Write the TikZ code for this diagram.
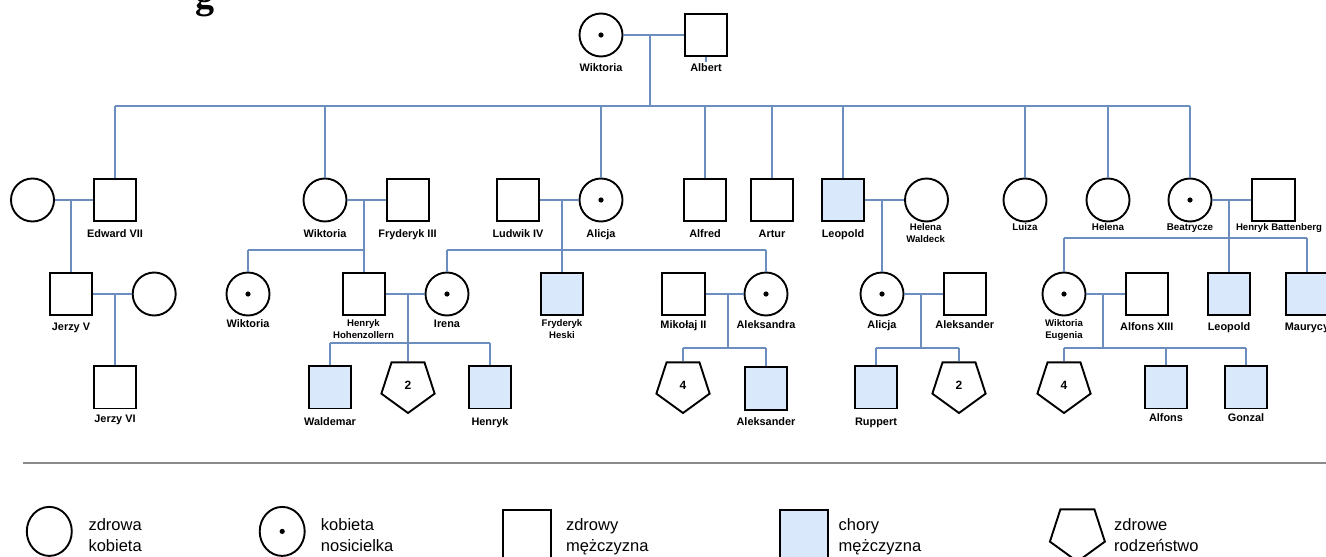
\documentclass[tikz,border=0pt]{standalone}
\usepackage{fontspec}
\setmainfont{Liberation Sans}
\newfontfamily\titlefont{Liberation Serif}
\usetikzlibrary{shapes.geometric}
\definecolor{lnblue}{HTML}{6C8EBF}
\definecolor{sickfill}{HTML}{DAE8FC}
\definecolor{sepgray}{HTML}{8A8A8A}
\begin{document}
\begin{tikzpicture}[x=1pt,y=-1pt,
  shp/.style={draw=black,line width=1.9pt,inner sep=0pt},
  fem/.style={shp,circle,minimum size=43pt},
  dotted centre/.style={path picture={\fill[black] (path picture bounding box.center) circle (2.6pt);}},
  carrier/.style={fem,dotted centre},
  male/.style={shp,rectangle,minimum size=42.5pt},
  sick/.style={male,fill=sickfill},
  sibs/.style={shp,regular polygon,regular polygon sides=5,shape border rotate=180,minimum size=56pt,font=\fontsize{12}{14}\selectfont\bfseries},
  lab/.style={anchor=base,inner sep=0pt,font=\fontsize{10.9}{13}\selectfont\bfseries},
  labr/.style={anchor=base,inner sep=0pt,font=\fontsize{9.8}{12}\selectfont\bfseries},
  lab2/.style={anchor=base,inner sep=0pt,font=\fontsize{9.6}{12}\selectfont\bfseries},
  rel/.style={draw=lnblue,line width=1.7pt},
  legf/.style={shp,ellipse,minimum width=45pt,minimum height=49pt},
  legm/.style={shp,rectangle,minimum size=48pt},
  legp/.style={shp,regular polygon,regular polygon sides=5,shape border rotate=180,minimum size=57.8pt},
  legt/.style={anchor=base west,inner sep=0pt,font=\fontsize{16.5}{20}\selectfont}
]
\useasboundingbox (0,0) rectangle (1326,557);
\clip (0,0) rectangle (1326,557);

% title fragment
\node[anchor=base,inner sep=0pt,font=\titlefont\bfseries\fontsize{38}{42}\selectfont] (ttl) at (205,8) {g};

% generation 1
\node[carrier] (wik1) at (601,35) {};
\node[male] (alb) at (706,35) {};
\node[lab] (lwik1) at (601,71.7) {Wiktoria};
\node[lab] (lalb) at (706,71.7) {Albert};

% generation 2
\node[fem] (ewife) at (32.5,200) {};
\node[male] (edw) at (115,200) {};
\node[fem] (wik2) at (325,200) {};
\node[male] (fry) at (408,200) {};
\node[male] (lud) at (518,200) {};
\node[carrier] (ali2) at (601,200) {};
\node[male] (alf) at (705,200) {};
\node[male] (art) at (772,200) {};
\node[sick] (leo2) at (843,200) {};
\node[fem] (hwal) at (926.5,200) {};
\node[fem] (lui) at (1025,200) {};
\node[fem] (hel) at (1108,200) {};
\node[carrier] (bea) at (1190,200) {};
\node[male] (hba) at (1273.3,200) {};

\node[lab] (ledw) at (115,237.3) {Edward VII};
\node[lab] (lwik2) at (325,237.3) {Wiktoria};
\node[lab] (lfry) at (407.5,237.3) {Fryderyk III};
\node[lab] (llud) at (518,237.3) {Ludwik IV};
\node[lab] (lali2) at (601,237.3) {Alicja};
\node[lab] (lalf) at (705,237.3) {Alfred};
\node[lab] (lart) at (772,237.3) {Artur};
\node[lab] (lleo2) at (843,237.3) {Leopold};
\node[lab2] (lhwa) at (925.7,230.7) {Helena};
\node[lab2] (lhwb) at (925.7,242.3) {Waldeck};
\node[labr] (llui) at (1025,230.7) {Luiza};
\node[labr] (lhel) at (1108,230.7) {Helena};
\node[labr] (lbea) at (1190,230.7) {Beatrycze};
\node[lab2] (lhba) at (1279,230.9) {Henryk Battenberg};

% generation 3
\node[male] (jv) at (71,294) {};
\node[fem] (jvw) at (154.2,294) {};
\node[carrier] (wik3) at (248,294) {};
\node[male] (hhoh) at (364,294) {};
\node[carrier] (ire) at (447,294) {};
\node[sick] (fhes) at (562,294) {};
\node[male] (mik) at (683.5,294) {};
\node[carrier] (aleks) at (766,294) {};
\node[carrier] (ali3) at (882,294) {};
\node[male] (alek3) at (964.8,294) {};
\node[carrier] (weug) at (1064,294) {};
\node[male] (alf13) at (1146.8,294) {};
\node[sick] (leo3) at (1229,294) {};
\node[sick] (mau) at (1307,294) {};

\node[lab] (ljv) at (71,330.7) {Jerzy V};
\node[lab] (lwik3) at (248,327.7) {Wiktoria};
\node[lab2] (lhha) at (363.5,326.7) {Henryk};
\node[lab2] (lhhb) at (363.5,338.3) {Hohenzollern};
\node[lab] (lire) at (447,327.3) {Irena};
\node[lab2] (lfha) at (562,326.7) {Fryderyk};
\node[lab2] (lfhb) at (562,338.3) {Heski};
\node[lab] (lmik) at (683.5,328.3) {Mikołaj II};
\node[lab] (laleks) at (766,328.3) {Aleksandra};
\node[lab] (lali3) at (882,328.3) {Alicja};
\node[lab] (lalek3) at (964.8,328.3) {Aleksander};
\node[lab2] (lwea) at (1064,326.7) {Wiktoria};
\node[lab2] (lweb) at (1064,338.3) {Eugenia};
\node[lab] (lalf13) at (1146.8,330.7) {Alfons XIII};
\node[lab] (lleo3) at (1229,330.7) {Leopold};
\node[lab] (lmau) at (1307,330.7) {Maurycy};

% generation 4
\node[male] (jvi) at (115,387.2) {};
\node[sick] (wal) at (330,387.2) {};
\node[sibs] (p2a) at (408,385) {2};
\node[sick] (hen4) at (490,387.2) {};
\node[sibs] (p4a) at (683,385) {4};
\node[sick] (alek4) at (766,388.5) {};
\node[sick] (rup) at (876,387.2) {};
\node[sibs] (p2b) at (959,385) {2};
\node[sibs] (p4b) at (1064,385) {4};
\node[sick] (alfo) at (1166,387.2) {};
\node[sick] (gon) at (1246,387.2) {};

\node[lab] (ljvi) at (115,422.3) {Jerzy VI};
\node[lab] (lwal) at (330,425) {Waldemar};
\node[lab] (lhen4) at (490,425) {Henryk};
\node[lab] (lalek4) at (766,425) {Aleksander};
\node[lab] (lrup) at (876,425) {Ruppert};
\node[lab] (lalfo) at (1166,421.7) {Alfons};
\node[lab] (lgon) at (1246,421.7) {Gonzal};

% connectors: generation 1
\coordinate (m0) at (650,35);
\coordinate (s0) at (650,106);
\coordinate (albt) at (706,62);
\draw[rel] (wik1) -- (alb);
\draw[rel] (alb.south) -- (albt);
\draw[rel] (m0) -- (s0);
\draw[rel] (edw.north |- s0) -- (bea.north |- s0);
\foreach \n in {edw,wik2,ali2,alf,art,leo2,lui,hel,bea}
  \draw[rel] (\n.north |- s0) -- (\n.north);

% connectors: generation 2
\draw[rel] (ewife) -- (edw);
\draw[rel] (jv.north |- edw) -- (jv.north);
\draw[rel] (wik2) -- (fry);
\draw[rel] (hhoh.north |- fry) -- (hhoh.north);
\coordinate (s2) at (364,250);
\draw[rel] (wik3.north |- s2) -- (s2);
\draw[rel] (wik3.north |- s2) -- (wik3.north);
\draw[rel] (lud) -- (ali2);
\draw[rel] (fhes.north |- ali2) -- (fhes.north);
\draw[rel] (ire.north |- s2) -- (aleks.north |- s2);
\draw[rel] (ire.north |- s2) -- (ire.north);
\draw[rel] (aleks.north |- s2) -- (aleks.north);
\draw[rel] (leo2) -- (hwal);
\draw[rel] (ali3.north |- leo2) -- (ali3.north);
\draw[rel] (bea) -- (hba);
\draw[rel] (leo3.north |- hba) -- (leo3.north);
\coordinate (s3) at (1229,238);
\draw[rel] (weug.north |- s3) -- (mau.north |- s3);
\draw[rel] (weug.north |- s3) -- (weug.north);
\draw[rel] (mau.north |- s3) -- (mau.north);

% connectors: generation 3
\draw[rel] (jv) -- (jvw);
\draw[rel] (jvi.north |- jv) -- (jvi.north);
\draw[rel] (hhoh) -- (ire);
\draw[rel] (p2a |- ire) -- (p2a);
\coordinate (s4) at (408,343);
\draw[rel] (wal.north |- s4) -- (hen4.north |- s4);
\draw[rel] (wal.north |- s4) -- (wal.north);
\draw[rel] (hen4.north |- s4) -- (hen4.north);

\draw[rel] (mik) -- (aleks);
\coordinate (m6) at (728,294);
\coordinate (s6) at (728,348);
\draw[rel] (m6) -- (s6);
\draw[rel] (p4a |- s6) -- (alek4.north |- s6);
\draw[rel] (p4a |- s6) -- (p4a);
\draw[rel] (alek4.north |- s6) -- (alek4.north);

\draw[rel] (ali3) -- (alek3);
\coordinate (m7) at (921,294);
\coordinate (s7) at (921,348);
\draw[rel] (m7) -- (s7);
\draw[rel] (rup.north |- s7) -- (p2b |- s7);
\draw[rel] (rup.north |- s7) -- (rup.north);
\draw[rel] (p2b |- s7) -- (p2b);

\draw[rel] (weug) -- (alf13);
\coordinate (m8) at (1103,294);
\coordinate (s8) at (1103,348);
\draw[rel] (m8) -- (s8);
\draw[rel] (p4b |- s8) -- (gon.north |- s8);
\draw[rel] (p4b |- s8) -- (p4b);
\draw[rel] (alfo.north |- s8) -- (alfo.north);
\draw[rel] (gon.north |- s8) -- (gon.north);

% separator
\coordinate (sepL) at (23,463);
\coordinate (sepR) at (1326,463);
\draw[sepgray,line width=1.6pt] (sepL) -- (sepR);

% legend
\node[legf] (lg1) at (49.3,531.4) {};
\node[legt] (lt1a) at (88.3,530) {zdrowa};
\node[legt] (lt1b) at (88.3,551) {kobieta};
\node[legf,dotted centre] (lg2) at (282.2,531.4) {};
\node[legt] (lt2a) at (320.7,530) {kobieta};
\node[legt] (lt2b) at (320.7,551) {nosicielka};
\node[legm] (lg3) at (527,534) {};
\node[legt] (lt3a) at (565.8,530) {zdrowy};
\node[legt] (lt3b) at (565.8,551) {mężczyzna};
\node[legm,fill=sickfill] (lg4) at (803.6,534) {};
\node[legt] (lt4a) at (838.5,530) {chory};
\node[legt] (lt4b) at (838.5,551) {mężczyzna};
\node[legp] (lg5) at (1077.4,532.7) {};
\node[legt] (lt5a) at (1114,530) {zdrowe};
\node[legt] (lt5b) at (1114,551) {rodzeństwo};
\end{tikzpicture}
\end{document}
